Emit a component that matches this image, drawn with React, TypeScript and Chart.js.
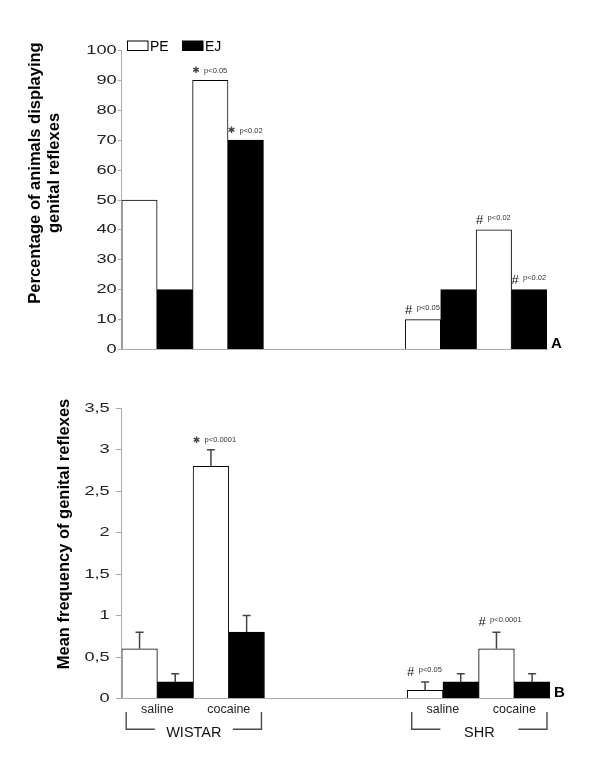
import React, { useEffect, useRef } from "react";
import { Chart, registerables } from "chart.js";

Chart.register(...registerables);

// ---------- data ----------
const categories = ["saline", "cocaine", "", "", "saline", "cocaine"];
const seriesNames = ["PE", "EJ"];
const pePercent = [50, 90, null, null, 10, 40];
const ejPercent = [20, 70, null, null, 20, 20];
const peFreq = [0.6, 2.8, null, null, 0.1, 0.6];
const ejFreq = [0.2, 0.8, null, null, 0.2, 0.2];
const peFreqErr = [0.2, 0.2, null, null, 0.1, 0.2];
const ejFreqErr = [0.1, 0.2, null, null, 0.1, 0.1];
const percentTickLabels = ["0", "10", "20", "30", "40", "50", "60", "70", "80", "90", "100"];
const freqTickLabels = ["0", "0,5", "1", "1,5", "2", "2,5", "3", "3,5"];
const groupNames = ["WISTAR", "SHR"];
const groupStart = [0, 4];
const groupEnd = [1, 5];
const percentTitle = ["Percentage of animals displaying", "genital reflexes"];
const freqTitle = ["Mean frequency of genital reflexes"];
const panelLetters = ["A", "B"];
const percentMarks = [
  { series: 0, index: 1, symbol: "\u2731", p: "p<0.05" },
  { series: 1, index: 1, symbol: "\u2731", p: "p<0.02" },
  { series: 0, index: 4, symbol: "#", p: "p<0.05" },
  { series: 0, index: 5, symbol: "#", p: "p<0.02" },
  { series: 1, index: 5, symbol: "#", p: "p<0.02" },
];
const freqMarks = [
  { series: 0, index: 1, symbol: "\u2731", p: "p<0.0001" },
  { series: 0, index: 4, symbol: "#", p: "p<0.05" },
  { series: 0, index: 5, symbol: "#", p: "p<0.0001" },
];

// ---------- styling ----------
const FONT = '"Liberation Sans", Arial, Helvetica, sans-serif';
const AXIS = "#ababab";
const W = 600;
const HA = 380;
const HB = 387;

type Mark = { series: number; index: number; symbol: string; p: string };

function makePlugin(cfg: {
  title: string[];
  titleX: number[];
  titleY: number;
  letter: string;
  tickLabels: string[];
  tickLen: number;
  tickPad: number;
  marks: Mark[];
  errors?: (number | null)[][];
  legend?: boolean;
  groups?: boolean;
}) {
  return {
    id: "panel" + cfg.letter,
    afterDatasetsDraw(chart: any) {
      const { ctx } = chart;
      const y = chart.scales.y;
      // error bars
      if (cfg.errors) {
        ctx.save();
        ctx.strokeStyle = "#444";
        ctx.lineWidth = 1.5;
        cfg.errors.forEach((arr, di) => {
          const meta = chart.getDatasetMeta(di);
          arr.forEach((e, i) => {
            const v = chart.data.datasets[di].data[i];
            if (e == null || v == null) return;
            const bar = meta.data[i];
            const yt = y.getPixelForValue(v + e);
            ctx.beginPath();
            ctx.moveTo(bar.x, bar.y);
            ctx.lineTo(bar.x, yt);
            ctx.moveTo(bar.x - 4, yt);
            ctx.lineTo(bar.x + 4, yt);
            ctx.stroke();
          });
        });
        ctx.restore();
      }
      // significance marks
      cfg.marks.forEach((m) => {
        const bar = chart.getDatasetMeta(m.series).data[m.index];
        const v = chart.data.datasets[m.series].data[m.index];
        const e = cfg.errors ? cfg.errors[m.series][m.index] : null;
        const top = e != null ? y.getPixelForValue(v + e) : bar.y;
        const sx = bar.x - bar.width / 2 + 3.5;
        const sy = top - 9.5;
        ctx.save();
        ctx.textAlign = "center";
        ctx.textBaseline = "middle";
        if (m.symbol === "#") {
          ctx.font = `13px ${FONT}`;
          ctx.fillStyle = "#111";
        } else {
          ctx.font = `bold 9px "DejaVu Sans", sans-serif`;
          ctx.fillStyle = "#444";
        }
        ctx.fillText(m.symbol, sx, sy);
        ctx.font = `7.5px ${FONT}`;
        ctx.fillStyle = "#333";
        ctx.textAlign = "left";
        ctx.fillText(m.p, sx + 8, m.symbol === "#" ? sy - 2.5 : sy);
        ctx.restore();
      });
    },
    afterDraw(chart: any) {
      const { ctx, chartArea } = chart;
      const y = chart.scales.y;
      const x = chart.scales.x;
      ctx.save();
      // y tick labels (horizontally widened like the original)
      ctx.font = `13px ${FONT}`;
      ctx.fillStyle = "#222";
      ctx.textAlign = "right";
      ctx.textBaseline = "middle";
      y.ticks.forEach((t: any, i: number) => {
        const py = y.getPixelForValue(t.value);
        ctx.save();
        ctx.translate(chartArea.left - cfg.tickLen - cfg.tickPad, py);
        ctx.scale(1.4, 1);
        ctx.fillText(cfg.tickLabels[i] ?? String(t.value), 0, 0);
        ctx.restore();
      });
      // y title
      ctx.font = `bold 16.5px ${FONT}`;
      ctx.fillStyle = "#000";
      ctx.textAlign = "center";
      ctx.textBaseline = "alphabetic";
      cfg.title.forEach((line, i) => {
        ctx.save();
        ctx.translate(cfg.titleX[i], cfg.titleY);
        ctx.rotate(-Math.PI / 2);
        ctx.fillText(line, 0, 0);
        ctx.restore();
      });
      // panel letter
      ctx.font = `bold 15px ${FONT}`;
      ctx.textAlign = "left";
      ctx.fillText(cfg.letter, chartArea.right + 4, chartArea.bottom - 1.5);
      // legend
      if (cfg.legend) {
        const ds = chart.data.datasets;
        const boxes = [127.5, 182.5];
        const texts = [150, 205];
        ds.forEach((d: any, i: number) => {
          ctx.fillStyle = d.backgroundColor;
          ctx.fillRect(boxes[i], 41, 20.5, 9.5);
          ctx.strokeStyle = "#000";
          ctx.lineWidth = 1;
          ctx.strokeRect(boxes[i], 41, 20.5, 9.5);
          ctx.fillStyle = "#000";
          ctx.font = `14px ${FONT}`;
          ctx.textBaseline = "alphabetic";
          ctx.fillText(d.label, texts[i], 50.8);
        });
      }
      // group brackets
      if (cfg.groups) {
        const half = (x.getPixelForValue(1) - x.getPixelForValue(0)) / 2;
        ctx.strokeStyle = "#4a4a4a";
        ctx.lineWidth = 1.4;
        groupNames.forEach((g, i) => {
          const xl = x.getPixelForValue(groupStart[i]) - half + 4.5;
          const xr = x.getPixelForValue(groupEnd[i]) + half - 3;
          const cx = (xl + xr) / 2;
          const yTop = 332;
          const yBot = 349.3;
          ctx.beginPath();
          ctx.moveTo(xl, yTop);
          ctx.lineTo(xl, yBot);
          ctx.lineTo(cx - 39, yBot);
          ctx.moveTo(cx + 39, yBot);
          ctx.lineTo(xr, yBot);
          ctx.lineTo(xr, yTop);
          ctx.stroke();
          ctx.fillStyle = "#111";
          ctx.font = `14.5px ${FONT}`;
          ctx.textAlign = "center";
          ctx.textBaseline = "alphabetic";
          ctx.fillText(g, cx, 357.3);
        });
      }
      ctx.restore();
    },
  };
}

function barDatasets(pe: (number | null)[], ej: (number | null)[]) {
  return [
    {
      label: seriesNames[0],
      data: pe,
      backgroundColor: "#ffffff",
      borderColor: "#000000",
      borderWidth: 1,
      barPercentage: 1,
      categoryPercentage: 1,
    },
    {
      label: seriesNames[1],
      data: ej,
      backgroundColor: "#000000",
      borderColor: "#000000",
      borderWidth: 1,
      barPercentage: 1,
      categoryPercentage: 1,
    },
  ];
}

export default function App() {
  const refA = useRef<HTMLCanvasElement>(null);
  const refB = useRef<HTMLCanvasElement>(null);

  useEffect(() => {
    const chartA = new Chart(refA.current as HTMLCanvasElement, {
      type: "bar",
      data: { labels: categories, datasets: barDatasets(pePercent, ejPercent) as any },
      options: {
        responsive: false,
        animation: false,
        layout: { padding: { top: 50.5, right: W - 547, left: 0, bottom: 0 } },
        plugins: { legend: { display: false }, tooltip: { enabled: false } },
        scales: {
          x: {
            grid: { display: false },
            border: { color: AXIS },
            ticks: { display: false },
            afterFit: (s: any) => {
              s.height = HA - 349.5;
            },
          },
          y: {
            min: 0,
            max: 100,
            ticks: { stepSize: 10, display: false },
            grid: { drawOnChartArea: false, drawTicks: true, tickLength: 4, color: AXIS },
            border: { color: AXIS },
            afterFit: (s: any) => {
              s.width = 121.7;
            },
          },
        },
      } as any,
      plugins: [
        makePlugin({
          title: percentTitle,
          titleX: [40.1, 58.7],
          titleY: 173,
          letter: panelLetters[0],
          tickLabels: percentTickLabels,
          tickLen: 3,
          tickPad: 2,
          marks: percentMarks,
          legend: true,
        }),
      ],
    });

    const chartB = new Chart(refB.current as HTMLCanvasElement, {
      type: "bar",
      data: { labels: categories, datasets: barDatasets(peFreq, ejFreq) as any },
      options: {
        responsive: false,
        animation: false,
        layout: { padding: { top: 28.3, right: W - 550, left: 0, bottom: 0 } },
        plugins: { legend: { display: false }, tooltip: { enabled: false } },
        scales: {
          x: {
            grid: { display: false, drawTicks: false },
            border: { color: AXIS },
            ticks: {
              autoSkip: false,
              maxRotation: 0,
              padding: 4,
              color: "#222",
              font: { family: FONT, size: 12.5 },
            },
            afterFit: (s: any) => {
              s.height = HB - 318.5;
            },
          },
          y: {
            min: 0,
            max: 3.5,
            ticks: { stepSize: 0.5, display: false },
            grid: { drawOnChartArea: false, drawTicks: true, tickLength: 6, color: AXIS },
            border: { color: AXIS },
            afterFit: (s: any) => {
              s.width = 121.7;
            },
          },
        },
      } as any,
      plugins: [
        makePlugin({
          title: freqTitle,
          titleX: [68.5],
          titleY: 154,
          letter: panelLetters[1],
          tickLabels: freqTickLabels,
          tickLen: 7,
          tickPad: 5,
          marks: freqMarks,
          errors: [peFreqErr, ejFreqErr],
          groups: true,
        }),
      ],
    });

    return () => {
      chartA.destroy();
      chartB.destroy();
    };
  }, []);

  return (
    <div style={{ position: "absolute", left: 0, top: 0, width: W, height: HA + HB, background: "#fff" }}>
      <canvas
        ref={refA}
        width={W}
        height={HA}
        style={{ position: "absolute", left: 0, top: 0, width: W, height: HA }}
      />
      <canvas
        ref={refB}
        width={W}
        height={HB}
        style={{ position: "absolute", left: 0, top: HA, width: W, height: HB }}
      />
    </div>
  );
}
